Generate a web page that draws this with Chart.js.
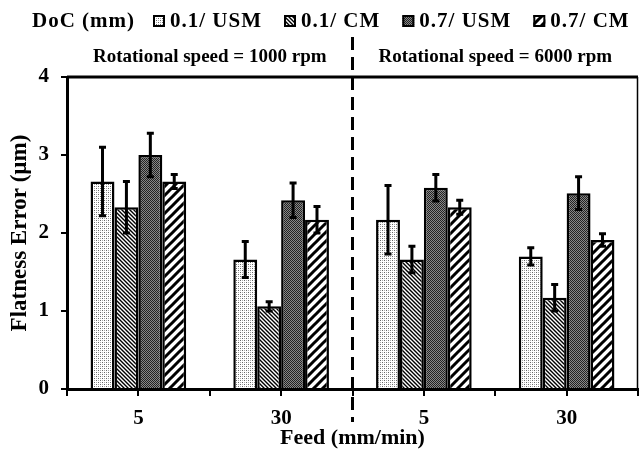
<!DOCTYPE html>
<html>
<head>
<meta charset="utf-8">
<script src="https://cdn.jsdelivr.net/npm/chart.js@4/dist/chart.umd.min.js"></script>
<style>
  html, body { margin: 0; padding: 0; background: #fff; }
  #wrap { width: 639px; height: 452px; }
</style>
</head>
<body>
<div id="wrap"><canvas id="myChart"></canvas></div>
<script>
const FEEDS = ['5', '30', '5', '30'];
const SPEEDS = ['Rotational speed = 1000 rpm', 'Rotational speed = 6000 rpm'];
const LEGEND_TITLE = 'DoC (mm)';
const SERIES = ['0.1/ USM', '0.1/ CM', '0.7/ USM', '0.7/ CM'];

// bar heights and error (+/-) per feed group
const USM_01 = [2.66, 1.66, 2.17, 1.70];
const CM_01 = [2.33, 1.06, 1.66, 1.17];
const USM_07 = [3.00, 2.42, 2.58, 2.51];
const CM_07 = [2.66, 2.17, 2.33, 1.91];
const ERR_USM_01 = [0.44, 0.23, 0.44, 0.11];
const ERR_CM_01 = [0.33, 0.06, 0.17, 0.17];
const ERR_USM_07 = [0.28, 0.22, 0.17, 0.21];
const ERR_CM_07 = [0.09, 0.17, 0.09, 0.08];

const Y_MIN = 0;
const Y_MAX = 4;
const Y_STEP = 1;

const FONT = '"Liberation Serif", "Times New Roman", serif';

function makePattern(kind) {
  const c = document.createElement('canvas');
  const g = c.getContext('2d');
  if (kind === 'dots') {
    c.width = 4; c.height = 4;
    g.fillStyle = '#fff'; g.fillRect(0, 0, 4, 4);
    g.fillStyle = '#666';
    g.fillRect(0, 0, 1, 1); g.fillRect(2, 2, 1, 1);
    g.fillStyle = '#aaa';
    g.fillRect(2, 0, 1, 1); g.fillRect(0, 2, 1, 1);
  } else if (kind === 'back') {
    c.width = 4; c.height = 4;
    g.fillStyle = '#fff'; g.fillRect(0, 0, 4, 4);
    g.strokeStyle = '#000'; g.lineWidth = 1.4;
    g.beginPath();
    g.moveTo(-1, -1); g.lineTo(5, 5);
    g.moveTo(-1, 3); g.lineTo(1, 5);
    g.moveTo(3, -1); g.lineTo(5, 1);
    g.stroke();
  } else if (kind === 'dark') {
    c.width = 2; c.height = 2;
    g.fillStyle = '#222'; g.fillRect(0, 0, 2, 2);
    g.fillStyle = '#888';
    g.fillRect(1, 0, 1, 1); g.fillRect(0, 1, 1, 1);
  } else {
    c.width = 9; c.height = 9;
    g.fillStyle = '#fff'; g.fillRect(0, 0, 9, 9);
    g.strokeStyle = '#000'; g.lineWidth = 3;
    g.beginPath();
    g.moveTo(-1, 10); g.lineTo(10, -1);
    g.moveTo(-2, 2); g.lineTo(2, -2);
    g.moveTo(7, 11); g.lineTo(11, 7);
    g.stroke();
  }
  return g.createPattern(c, 'repeat');
}

const fills = [makePattern('dots'), makePattern('back'), makePattern('dark'), makePattern('stripes')];
const values = [USM_01, CM_01, USM_07, CM_07];
const errors = [ERR_USM_01, ERR_CM_01, ERR_USM_07, ERR_CM_07];

const data = {
  labels: FEEDS,
  datasets: SERIES.map((name, i) => ({
    label: name,
    data: values[i],
    backgroundColor: fills[i],
    borderColor: '#000',
    borderWidth: 2.5,
    barPercentage: 1.0,
    categoryPercentage: 0.67,
  })),
};

// error bars drawn at each bar through the y scale
const errorBars = {
  id: 'errorBars',
  afterDatasetsDraw(chart) {
    const ctx = chart.ctx;
    const y = chart.scales.y;
    ctx.save();
    ctx.strokeStyle = '#000';
    ctx.lineWidth = 3;
    chart.data.datasets.forEach((ds, i) => {
      chart.getDatasetMeta(i).data.forEach((bar, j) => {
        const v = ds.data[j];
        const e = errors[i][j];
        const top = y.getPixelForValue(v + e);
        const bot = y.getPixelForValue(v - e);
        ctx.beginPath();
        ctx.moveTo(bar.x, top); ctx.lineTo(bar.x, bot);
        ctx.moveTo(bar.x - 3.5, top); ctx.lineTo(bar.x + 3.5, top);
        ctx.moveTo(bar.x - 3.5, bot); ctx.lineTo(bar.x + 3.5, bot);
        ctx.stroke();
      });
    });
    ctx.restore();
  },
};

// frame, category boundary ticks, speed separator, speed labels, legend
const decorations = {
  id: 'decorations',
  afterDraw(chart) {
    const {ctx, chartArea: area, scales: {x}} = chart;
    const half = (x.getPixelForValue(1) - x.getPixelForValue(0)) / 2;
    ctx.save();
    ctx.strokeStyle = '#000';

    ctx.lineWidth = 3;
    ctx.beginPath();
    ctx.moveTo(area.left, area.top); ctx.lineTo(area.right, area.top);
    ctx.stroke();
    ctx.lineWidth = 1.5;
    ctx.beginPath();
    ctx.moveTo(area.right - 0.5, area.top); ctx.lineTo(area.right - 0.5, area.bottom);
    ctx.stroke();

    ctx.lineWidth = 2;
    ctx.beginPath();
    for (let i = 0; i <= FEEDS.length; i++) {
      const px = Math.round(x.getPixelForValue(i) - half);
      ctx.moveTo(px, area.bottom); ctx.lineTo(px, area.bottom + 7);
    }
    ctx.stroke();

    const groups = FEEDS.length / SPEEDS.length;
    ctx.lineWidth = 3;
    ctx.setLineDash([13, 7]);
    for (let s = 1; s < SPEEDS.length; s++) {
      const px = x.getPixelForValue(s * groups) - half;
      ctx.beginPath();
      ctx.moveTo(px, 37); ctx.lineTo(px, 422);
      ctx.stroke();
    }
    ctx.setLineDash([]);

    ctx.fillStyle = '#000';
    ctx.textAlign = 'center';
    ctx.textBaseline = 'alphabetic';
    ctx.font = 'bold 19px ' + FONT;
    SPEEDS.forEach((txt, s) => {
      const l = x.getPixelForValue(s * groups) - half;
      const r = x.getPixelForValue((s + 1) * groups - 1) + half;
      ctx.fillText(txt, (l + r) / 2, 62);
    });

    ctx.font = 'bold 21px ' + FONT;
    ctx.textAlign = 'left';
    if ('letterSpacing' in ctx) ctx.letterSpacing = '1px';
    ctx.fillText(LEGEND_TITLE, 32, 27);
    let lx = 153;
    chart.data.datasets.forEach((ds) => {
      ctx.fillStyle = ds.backgroundColor;
      ctx.fillRect(lx, 15, 12, 12);
      ctx.lineWidth = 2;
      ctx.strokeRect(lx + 1, 16, 10, 10);
      ctx.fillStyle = '#000';
      ctx.fillText(ds.label, lx + 17, 27);
      lx += 17 + ctx.measureText(ds.label).width + 22;
    });
    ctx.restore();
  },
};

const config = {
  type: 'bar',
  data: data,
  options: {
    responsive: true,
    maintainAspectRatio: false,
    animation: false,
    layout: {padding: {top: 77, right: 1, left: 0, bottom: 0}},
    plugins: {
      legend: {display: false},
      tooltip: {enabled: false},
    },
    scales: {
      x: {
        offset: true,
        grid: {offset: false, drawOnChartArea: false, tickLength: 7, color: '#000', lineWidth: 2},
        border: {display: true, color: '#000', width: 3, z: 1},
        ticks: {color: '#000', font: {family: FONT, size: 21, weight: 'bold'}, padding: 10},
        title: {
          display: true,
          text: 'Feed (mm/min)',
          color: '#000',
          font: {family: FONT, size: 22, weight: 'bold'},
          padding: {top: 0, bottom: 0},
        },
        afterFit: (s) => {
          s.height = 63;
        },
      },
      y: {
        min: Y_MIN,
        max: Y_MAX,
        grid: {drawOnChartArea: false, tickLength: 6, color: '#000', lineWidth: 2},
        border: {display: true, color: '#000', width: 3, z: 1},
        ticks: {stepSize: Y_STEP, color: '#000', font: {family: FONT, size: 21, weight: 'bold'}, padding: 12},
        title: {
          display: true,
          text: 'Flatness Error (µm)',
          color: '#000',
          font: {family: FONT, size: 23, weight: 'bold'},
          padding: {top: 6, bottom: 0},
        },
        afterFit: (s) => {
          s.width = 67;
        },
      },
    },
  },
  plugins: [errorBars, decorations],
};

const myChart = new Chart(document.getElementById('myChart'), config);
</script>
</body>
</html>
